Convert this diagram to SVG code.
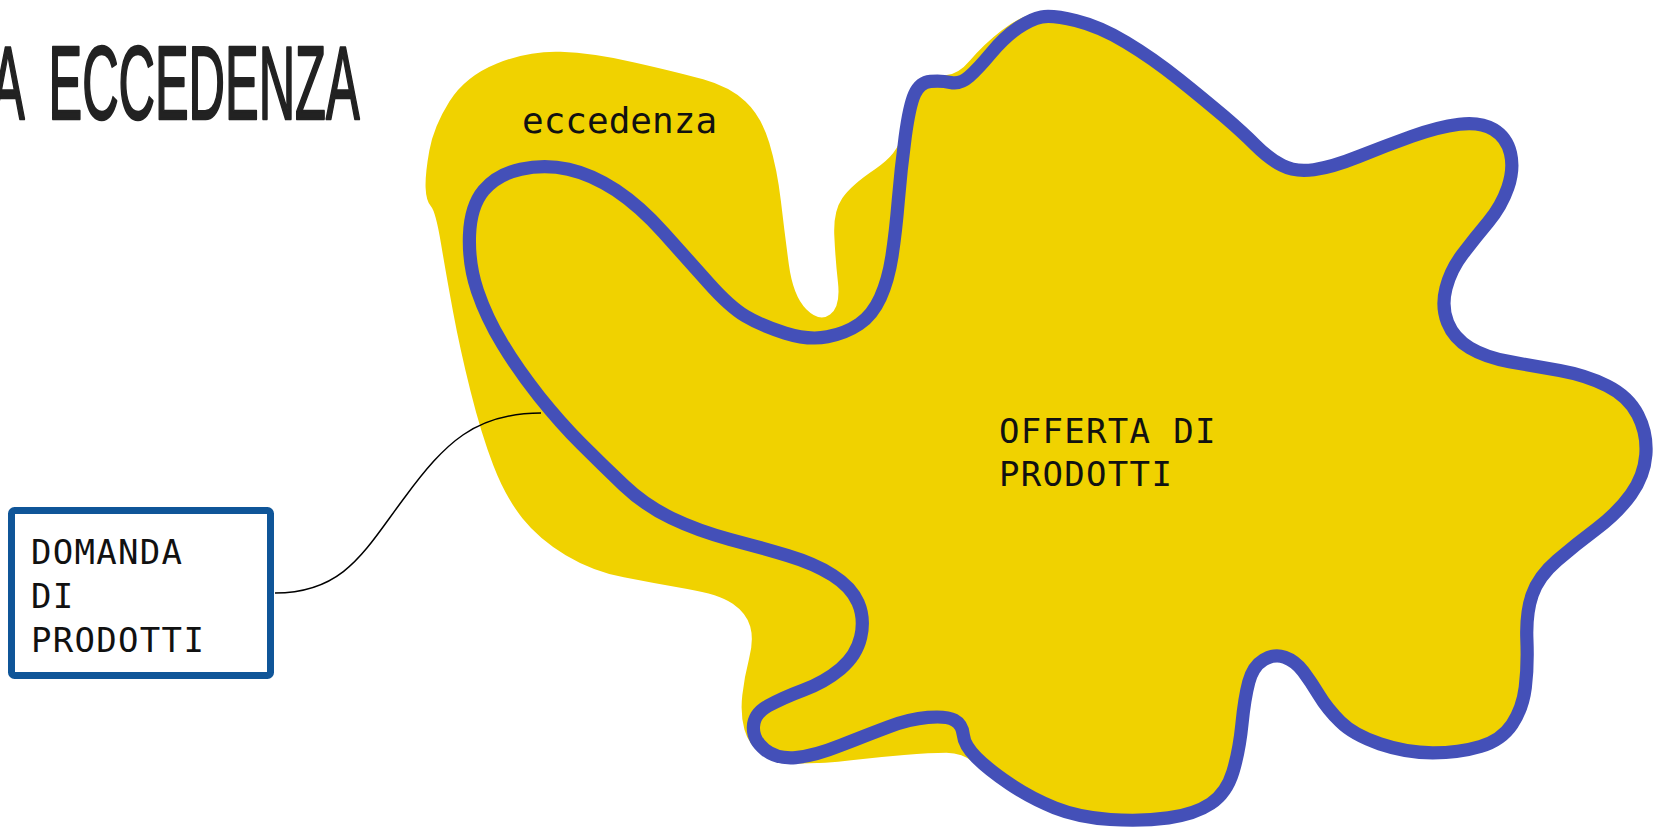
<svg xmlns="http://www.w3.org/2000/svg" width="1658" height="836" viewBox="0 0 1658 836">
<style>
.mono{font-family:"DejaVu Sans Mono","Liberation Mono",monospace;fill:#111}
.blob{fill:#F0D200;stroke:none}
.outline{fill:none;stroke:#4450B8;stroke-width:12.5;stroke-linejoin:round}
.conn{fill:none;stroke:#000;stroke-width:1.5}
.box{fill:#fff;stroke:#0F5598;stroke-width:7}
</style>
<rect width="1658" height="836" fill="#fff"/>
<g id="title">
<text transform="scale(0.485,1)" x="-18.5" y="119" font-family="Liberation Sans, Arial, sans-serif" font-size="104" word-spacing="26" fill="#222" stroke="#222" stroke-width="2.5" stroke-linejoin="round">A ECCEDENZA</text>
</g>
<g id="offerta" transform="scale(1.0574)">
<path class="blob" d="M406,142.5 Q410,120 425,96 Q440,72 470,60 Q500,48 530,49 Q560,50 600,59 Q640,68 665,75 Q690,82 705,96 Q720,110 727.5,135 Q735,160 738.5,190 Q742,220 746,250 Q750,280 762.5,292.5 Q775,305 785,297.5 Q795,290 792.5,267.5 Q790,245 789,222.5 Q788,200 796.5,187.5 Q805,175 827.5,160 Q850,145 852.5,127.5 Q855,110 858.5,95 Q862,80 871,75 Q880,70 892.5,71 Q905,72 917.5,57 Q930,42 947.5,28.5 Q965,15 980,12.5 Q995,10 1017.5,16 Q1040,22 1065,37 Q1090,52 1115,72 Q1140,92 1157.5,107 Q1175,122 1187.5,135 Q1200,148 1212.5,154 Q1225,160 1242.5,157.5 Q1260,155 1285,144.5 Q1310,134 1335,125 Q1360,116 1380,114 Q1400,112 1414,120 Q1428,128 1431.5,144 Q1435,160 1429,178.5 Q1423,197 1410.5,212.5 Q1398,228 1387,242.5 Q1376,257 1371.5,273.5 Q1367,290 1372.5,304 Q1378,318 1392.5,326.5 Q1407,335 1428.5,339 Q1450,343 1476,347.5 Q1502,352 1522.5,362 Q1543,372 1552,391 Q1561,410 1559.5,431 Q1558,452 1545.5,470 Q1533,488 1513,503 Q1493,518 1475.5,533 Q1458,548 1452,565 Q1446,582 1447,606 Q1448,630 1445.5,651 Q1443,672 1432.5,688 Q1422,704 1401,710 Q1380,716 1354,716 Q1328,716 1303,707 Q1278,698 1265,685 Q1252,672 1244.5,660 Q1237,648 1229.5,638 Q1222,628 1213.5,624.5 Q1205,621 1196.5,627 Q1188,633 1184,647.5 Q1180,662 1177.5,687 Q1175,712 1169,732.5 Q1163,753 1147.5,763 Q1132,773 1106,776.5 Q1080,780 1049,778 Q1018,776 995.5,767 Q973,758 953,744.5 Q933,731 921.5,721.5 Q910,712 895,712 Q880,712 855,714 Q830,716 805,719 Q780,722 757.5,722 Q735,722 721.5,713.5 Q708,705 704,690 Q700,675 702,657.5 Q704,640 708.5,622.5 Q713,605 709.5,592.5 Q706,580 693,571 Q680,562 650,557 Q620,552 590,546 Q560,540 535,525 Q510,510 494,490 Q478,470 466.5,440 Q455,410 445,370 Q435,330 428.5,295 Q422,260 417,230 Q412,200 407.5,195 Q403,190 402.5,177.5 Q402,165 406,142.5 Z"/>
<path class="outline" d="M985,16 Q995,14 1017.5,19.5 Q1040,25 1065,40 Q1090,55 1115,75 Q1140,95 1157.5,110 Q1175,125 1187.5,137.5 Q1200,150 1212.5,156.5 Q1225,163 1242.5,160.5 Q1260,158 1285,148 Q1310,138 1335,129 Q1360,120 1380,117.5 Q1400,115 1412.5,122.5 Q1425,130 1428.5,145 Q1432,160 1426,177.5 Q1420,195 1407.5,210 Q1395,225 1383.5,240 Q1372,255 1367.5,272.5 Q1363,290 1369,305 Q1375,320 1390,329 Q1405,338 1427.5,342 Q1450,346 1475,350.5 Q1500,355 1520,365 Q1540,375 1549,392.5 Q1558,410 1556.5,430 Q1555,450 1542.5,467.5 Q1530,485 1510,500 Q1490,515 1472.5,530 Q1455,545 1449,562.5 Q1443,580 1444,605 Q1445,630 1442.5,650 Q1440,670 1430,685 Q1420,700 1400,706 Q1380,712 1355,712 Q1330,712 1305,703.5 Q1280,695 1267.5,682.5 Q1255,670 1247.5,657.5 Q1240,645 1232.5,635 Q1225,625 1215,621.5 Q1205,618 1195,624 Q1185,630 1181,645 Q1177,660 1174.5,685 Q1172,710 1166,730 Q1160,750 1145,760 Q1130,770 1105,773.5 Q1080,777 1050,775 Q1020,773 997.5,764 Q975,755 955,741.5 Q935,728 923.5,716.5 Q912,705 911,695 Q910,685 902.5,681 Q895,677 877.5,678.5 Q860,680 840,687.5 Q820,695 795,705 Q770,715 752.5,716.5 Q735,718 723.5,709 Q712,700 712.5,687.5 Q713,675 726.5,667.5 Q740,660 760,652.5 Q780,645 795,632.5 Q810,620 814,602.5 Q818,585 811.5,570 Q805,555 787.5,544 Q770,533 745,525.5 Q720,518 690,510 Q660,502 635,490 Q610,478 590,459 Q570,440 550,420 Q530,400 510,375 Q490,350 475,325 Q460,300 451.5,275 Q443,250 444,222.5 Q445,195 457.5,180 Q470,165 492.5,160 Q515,155 537.5,160 Q560,165 582.5,180 Q605,195 627.5,220 Q650,245 670,267.5 Q690,290 705,299 Q720,308 742.5,315 Q765,322 782.5,318.5 Q800,315 812.5,306.5 Q825,298 832.5,281.5 Q840,265 843.5,242.5 Q847,220 849.5,190 Q852,160 856,130 Q860,100 865,89 Q870,78 880,77 Q890,76 899,78 Q908,80 916.5,72.5 Q925,65 937.5,50 Q950,35 962.5,26.5 Q975,18 985,16 Z"/>
</g>
<g id="labels">
<text class="mono" x="522" y="133" font-size="36">eccedenza</text>
<text class="mono" font-size="34" letter-spacing="1.3"><tspan x="999" y="443">OFFERTA DI</tspan><tspan x="999" y="486">PRODOTTI</tspan></text>
</g>
<g id="connectors">
<path class="conn" d="M275,593 C345,593 365,550 405,497 C445,443 475,413 541,413"/>
</g>
<g id="domanda">
<rect class="box" x="11.5" y="510.5" width="259" height="165" rx="3"/>
<text class="mono" font-size="34" letter-spacing="1.3"><tspan x="31" y="564">DOMANDA</tspan><tspan x="31" y="608">DI</tspan><tspan x="31" y="652">PRODOTTI</tspan></text>
</g>
</svg>
